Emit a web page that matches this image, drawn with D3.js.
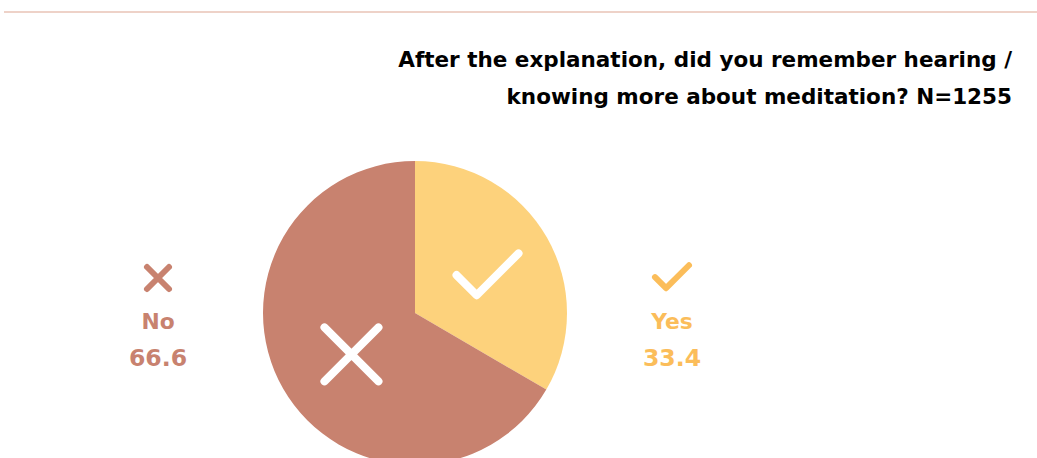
<!DOCTYPE html>
<html>
<head>
<meta charset="utf-8">
<script src="https://cdn.jsdelivr.net/npm/d3@7"></script>
<style>
  html, body { margin: 0; padding: 0; background: #fff; }
  svg { display: block; font-family: "DejaVu Sans", sans-serif; }
</style>
</head>
<body>
<svg id="chart" width="1037" height="458"></svg>
<script>
// Survey answers and their shares (percent)
const categories = ["Yes", "No"];
const values = [33.4, 66.6];
const sliceColors = ["#fdd27c", "#c8826f"];
const labelColors = ["#fbbd5a", "#c8826f"];
const titleLines = [
  "After the explanation, did you remember hearing /",
  "knowing more about meditation? N=1255"
];

const width = 1037, height = 458;
const svg = d3.select("#chart");

// Thin rule across the top
svg.append("line")
  .attr("x1", 4).attr("x2", width)
  .attr("y1", 12).attr("y2", 12)
  .attr("stroke", "#eed2c8").attr("stroke-width", 2);

// Title, right aligned
svg.append("g").selectAll("text").data(titleLines).join("text")
  .attr("x", 1012)
  .attr("y", (d, i) => 67 + i * 37)
  .attr("text-anchor", "end")
  .attr("font-size", 21.5)
  .attr("font-weight", "bold")
  .attr("fill", "#000")
  .text(d => d);

// Pie
const cx = 415, cy = 313, R = 152;
const data = categories.map((c, i) => ({ cat: c, value: values[i], i }));
const pie = d3.pie().sort(null).value(d => d.value);
const arcs = pie(data);
const arc = d3.arc().innerRadius(0).outerRadius(R);
const iconArc = d3.arc().innerRadius(0).outerRadius(R * 1.04);

const g = svg.append("g").attr("transform", `translate(${cx},${cy})`);
g.selectAll("path").data(arcs).join("path")
  .attr("d", arc)
  .attr("fill", d => sliceColors[d.data.i]);

// Icon drawing helpers
function drawCheck(sel, size, sw, color) {
  const s = size / 2;
  sel.append("path")
    .attr("d", `M${-s},${-s * 0.05} L${-s * 0.35},${s * 0.6} L${s},${-s * 0.75}`)
    .attr("fill", "none").attr("stroke", color).attr("stroke-width", sw)
    .attr("stroke-linecap", "round").attr("stroke-linejoin", "round");
}
function drawCross(sel, size, sw, color) {
  const s = size / 2;
  sel.append("path")
    .attr("d", `M${-s},${-s} L${s},${s} M${s},${-s} L${-s},${s}`)
    .attr("fill", "none").attr("stroke", color).attr("stroke-width", sw)
    .attr("stroke-linecap", "round");
}

// White icons inside the slices
arcs.forEach(a => {
  const [x, y] = iconArc.centroid(a);
  if (a.data.cat === "Yes") {
    drawCheck(g.append("g").attr("transform", `translate(${x + 4},${y + 3})`), 62, 8, "#fff");
  } else {
    drawCross(g.append("g").attr("transform", `translate(${x + 5},${y + 2})`), 54, 8, "#fff");
  }
});

// Side labels
const labelX = { Yes: 672, No: 158 };
data.forEach(d => {
  const lg = svg.append("g").attr("transform", `translate(${labelX[d.cat]},0)`);
  const ic = lg.append("g").attr("transform", "translate(0,278)");
  if (d.cat === "Yes") drawCheck(ic, 34, 6, labelColors[d.i]);
  else drawCross(ic, 22, 6, labelColors[d.i]);
  lg.append("text").attr("y", 329).attr("text-anchor", "middle")
    .attr("font-size", 21.8).attr("font-weight", "bold")
    .attr("fill", labelColors[d.i]).text(d.cat);
  lg.append("text").attr("y", 366).attr("text-anchor", "middle")
    .attr("font-size", 23.6).attr("font-weight", "bold")
    .attr("fill", labelColors[d.i]).text(d3.format(".1f")(d.value));
});
</script>
</body>
</html>
